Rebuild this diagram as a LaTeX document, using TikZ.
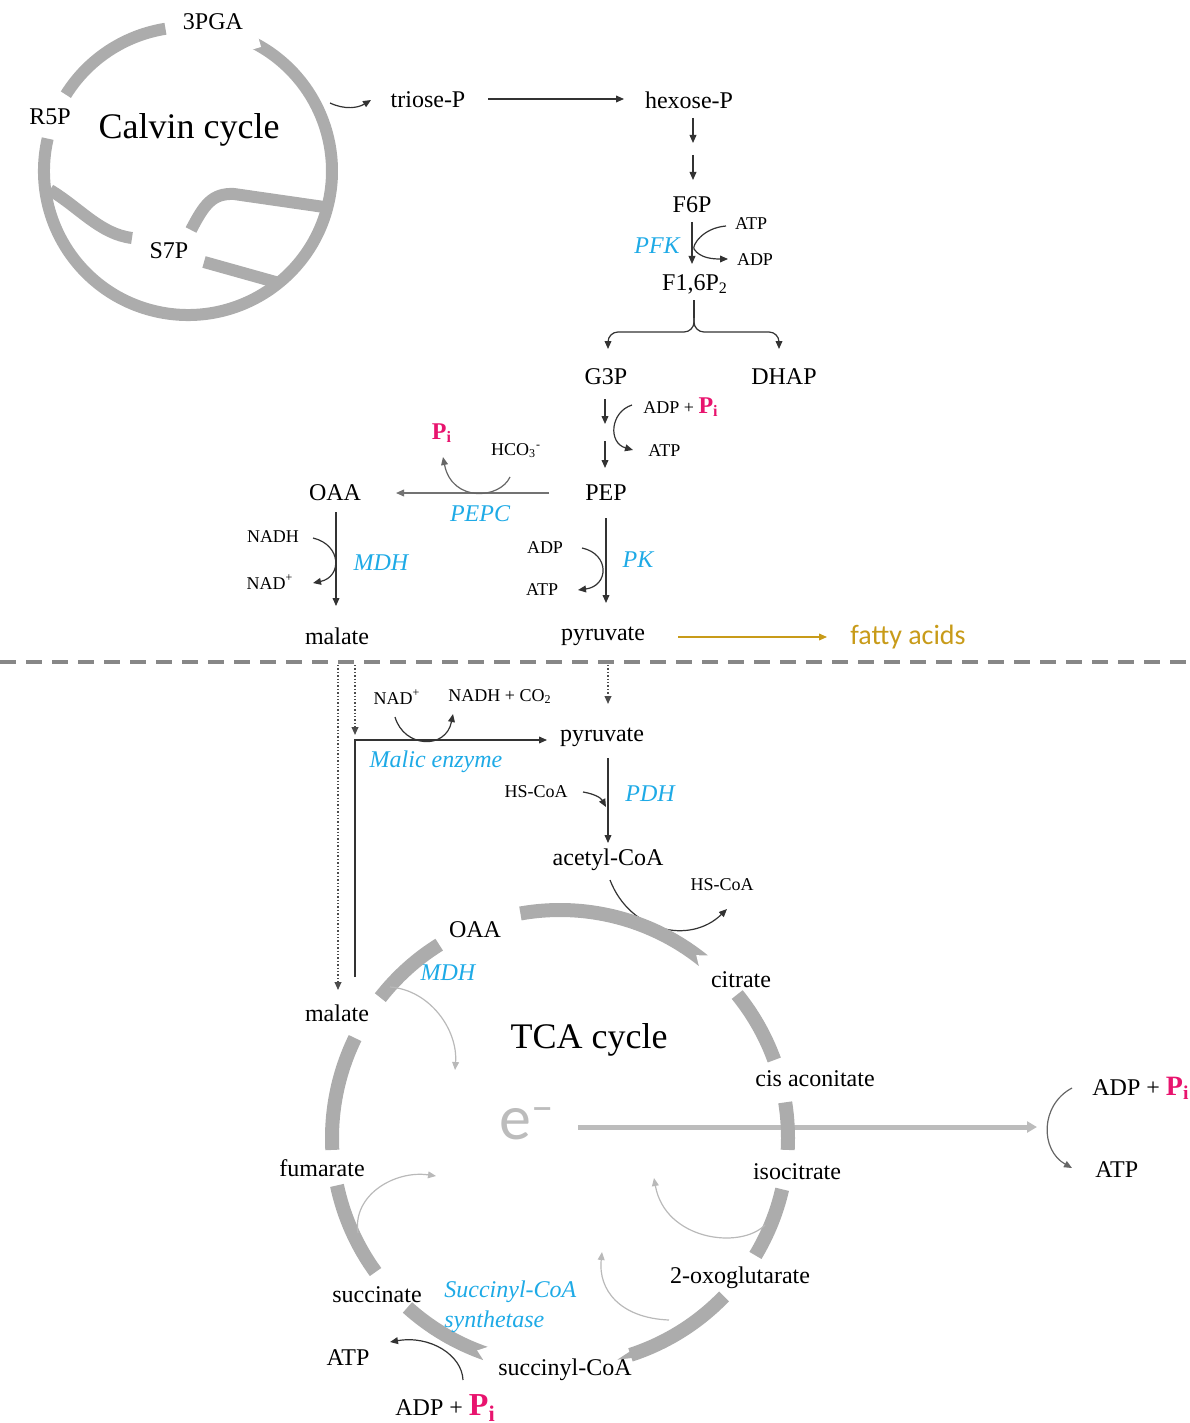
\documentclass[tikz,border=0pt]{standalone}
\usepackage{fontspec}
\setmainfont{Liberation Serif}
\newfontfamily\sansfam{Carlito}
\usetikzlibrary{arrows.meta,calc}
\definecolor{enzblue}{RGB}{30,170,230}
\definecolor{pinkc}{RGB}{232,20,110}
\definecolor{goldc}{RGB}{200,155,25}
\definecolor{ringgray}{RGB}{172,172,172}
\definecolor{lightgraytwo}{RGB}{185,185,185}
\definecolor{dashgray}{RGB}{135,135,135}
\definecolor{egray}{RGB}{188,188,188}
\newcommand{\myPi}[1]{\textcolor{pinkc}{\fontsize{#1}{#1}\selectfont\textbf{P\textsubscript{i}}}}
\begin{document}
\begin{tikzpicture}[x=0.5pt,y=-0.5pt,
  lbl/.style={inner sep=0pt, font=\fontsize{12}{14}\selectfont},
  sm/.style={inner sep=0pt, font=\fontsize{9}{11}\selectfont},
  enz/.style={inner sep=0pt, text=enzblue, font=\fontsize{12}{14}\selectfont\itshape},
  big/.style={inner sep=0pt, font=\fontsize{18}{22}\selectfont},
  ar/.style={draw=black!80, line width=0.6pt, -{Triangle[length=4pt,width=3.4pt]}},
  ln/.style={draw=black!80, line width=0.6pt},
  lar/.style={draw=lightgraytwo, line width=0.6pt, -{Triangle[length=4pt,width=3.4pt]}},
  dotar/.style={draw=black!70, line width=0.7pt, densely dotted, -{Triangle[length=4pt,width=3.4pt]}},
  cring/.style={draw=ringgray, line width=6pt},
  tring/.style={draw=ringgray, line width=7pt},
]
\useasboundingbox (0,0) rectangle (1189,1423);

% ---------------- Calvin cycle ----------------
\coordinate (cc) at (188,171);
\draw[cring] (cc) ++(-99:144) arc[start angle=-99, end angle=-148, radius=144];
\draw[cring] (cc) ++(-167:144) arc[start angle=-167, end angle=-422, radius=144];
\fill[white] ($(cc)+(-422.3:151)$) -- ($(cc)+(-419.5:144)$) -- ($(cc)+(-422.3:137)$) -- cycle;
\draw[cring] (50,190) .. controls (80,208) and (100,234) .. (132,238);
\draw[cring] (191,230) .. controls (204,205) and (212,193) .. (234,194) -- (331,208);
\draw[cring] (204,262) -- (279,283);
\node[lbl] (pga) at (213,22) {3PGA};
\node[lbl] (r5p) at (50,117) {R5P};
\node[lbl] (s7p) at (169,251) {S7P};
\node[big] (calvin) at (189,130) {Calvin cycle};

% ---------------- upper pathway ----------------
\node[lbl] (triose) at (428,100) {triose-P};
\node[lbl] (hexose) at (689,100) {hexose-P};
\coordinate (cexit) at (330,103);
\coordinate (tin) at (371,100);
\draw[ar] (cexit) .. controls (345,110) and (358,108) .. (tin);
\coordinate (th1) at (488,99); \coordinate (th2) at (624,99);
\draw[ar] (th1) -- (th2);
\coordinate (h1) at (693,118); \coordinate (h2) at (693,143);
\coordinate (h3) at (693,155); \coordinate (h4) at (693,180);
\draw[ar] (h1) -- (h2);
\draw[ar] (h3) -- (h4);

\node[lbl] (f6p) at (692,205) {F6P};
\node[lbl] (fbp) at (695,284) {F1,6P\textsubscript{2}};
\coordinate (pfk1) at (692,222); \coordinate (pfk2) at (692,264);
\draw[ar] (pfk1) -- (pfk2);
\node[sm] (atp1) at (751,224) {ATP};
\node[sm] (adp1) at (755,260) {ADP};
\node[enz] (pfk) at (657,246) {PFK};
\draw[ar] (726,226) .. controls (702,228) and (692,246) .. (694,249) .. controls (700,258) and (712,259) .. (728,259);

\coordinate (br0) at (694,300);
\coordinate (br1) at (694,332);
\draw[ln] (br0) -- (694,318);
\draw[ar, rounded corners=5pt] (694,312) -- (br1) -- (608,332) -- (608,349);
\draw[ar, rounded corners=5pt] (694,312) -- (br1) -- (779,332) -- (779,349);

\node[lbl] (g3p) at (606,377) {G3P};
\node[lbl] (dhap) at (784,377) {DHAP};
\coordinate (g1) at (605,399); \coordinate (g2) at (605,424);
\coordinate (g3) at (605,441); \coordinate (g4) at (605,468);
\draw[ar] (g1) -- (g2);
\draw[ar] (g3) -- (g4);
\draw[ar] (632,405) .. controls (610,412) and (608,443) .. (633,450);
\node[sm, anchor=west] (adppi1) at (643,407) {ADP + \myPi{12}};
\node[sm, anchor=west] (atp2) at (648,451) {ATP};

\node[lbl] (pep) at (606,493) {PEP};
\node[lbl] (oaa1) at (335,493) {OAA};
\coordinate (pc1) at (549,493); \coordinate (pc2) at (396,493);
\draw[ar, draw=black!55] (pc1) -- (pc2);
\draw[ar, draw=black!60] (510,477) .. controls (500,499) and (452,503) .. (443,457);
\node[sm] (hco3) at (516,451) {HCO\textsubscript{3}\textsuperscript{-}};
\node[inner sep=0pt] (pi1) at (442,433) {\myPi{12}};
\node[enz] (pepc) at (480,514) {PEPC};

\node[lbl] (pyr1) at (603,636) {pyruvate};
\node[lbl] (mal1) at (337,636) {malate};
\coordinate (pk1) at (606,518); \coordinate (pk2) at (606,603);
\draw[ar] (pk1) -- (pk2);
\draw[ar] (582,548) .. controls (610,554) and (609,586) .. (578,590);
\node[sm] (adp2) at (545,548) {ADP};
\node[sm] (atp3) at (542,590) {ATP};
\node[enz] (pk) at (638,560) {PK};

\coordinate (md1) at (336,512); \coordinate (md2) at (336,606);
\draw[ar] (md1) -- (md2);
\draw[ar] (313,538) .. controls (342,545) and (342,577) .. (313,583);
\node[sm] (nadh1) at (273,537) {NADH};
\node[sm] (nad1) at (270,582) {NAD\textsuperscript{+}};
\node[enz] (mdh1) at (381,563) {MDH};

\node[inner sep=0pt, text=goldc, font=\sansfam\fontsize{14}{16}\selectfont] (fa) at (908,637) {fatty acids};
\coordinate (fa1) at (678,637); \coordinate (fa2) at (827,637);
\draw[draw=goldc, line width=0.6pt, -{Triangle[length=4pt,width=3.4pt]}] (fa1) -- (fa2);

\draw[dashgray, line width=1.8pt, dash pattern=on 8pt off 5pt] (0,662) -- (1189,662);

% ---------------- mitochondrion ----------------
\node[lbl] (mal2) at (337,1013) {malate};
\node[lbl] (pyr2) at (602,737) {pyruvate};
\coordinate (d1) at (338,665);
\coordinate (d1b) at (338,990);
\coordinate (d2) at (355,665);
\coordinate (d3) at (355,735);
\coordinate (me0) at (355,977);
\coordinate (me1) at (355,740);
\coordinate (me2) at (547,740);
\draw[dotar] (d1) -- (d1b);
\draw[dotar] (d2) -- (d3);
\draw[ar] (me0) -- (me1) -- (me2);
\draw[ar] (395,717) .. controls (404,748) and (446,750) .. (453,714);
\node[sm] (nad2) at (397,697) {NAD\textsuperscript{+}};
\node[sm] (nadh2) at (500,697) {NADH + CO\textsubscript{2}};
\node[enz] (me) at (436,762) {Malic enzyme};
\coordinate (d4) at (608,665); \coordinate (d5) at (608,704);
\draw[dotar] (d4) -- (d5);

\node[lbl] (acoa) at (608,860) {acetyl-CoA};
\coordinate (pd1) at (608,758); \coordinate (pd2) at (608,843);
\draw[ar] (pd1) -- (pd2);
\draw[ar] (583,792) .. controls (595,794) and (601,798) .. (606,807);
\node[sm] (hscoa1) at (536,792) {HS-CoA};
\node[enz] (pdh) at (650,794) {PDH};
\draw[ar] (610,880) .. controls (630,932) and (690,945) .. (727,909);
\node[sm] (hscoa2) at (722,885) {HS-CoA};

% e- arrow
\node[inner sep=0pt, text=egray, font=\sansfam\fontsize{32}{32}\selectfont] (el) at (527,1124) {e\textsuperscript{\textendash}};
\coordinate (ea) at (578,1127); \coordinate (eb) at (1037,1127);
\draw[draw=egray, line width=2.5pt, -{Triangle[length=5pt,width=5.5pt]}] (ea) -- (eb);

% TCA ring
\coordinate (tc) at (560,1138);
\draw[tring] (tc) ++(-100:228) arc[start angle=-100, end angle=-51, radius=228];
\fill[white] ($(tc)+(-50.7:236)$) -- ($(tc)+(-53.3:228)$) -- ($(tc)+(-50.7:220)$) -- cycle;
\draw[tring] (tc) ++(-39:228) arc[start angle=-39, end angle=-20, radius=228];
\draw[tring] (tc) ++(-9:228) arc[start angle=-9, end angle=3, radius=228];
\draw[tring] (tc) ++(13:228) arc[start angle=13, end angle=31, radius=228];
\draw[tring] (tc) ++(44:228) arc[start angle=44, end angle=72, radius=228];
\fill[ringgray] ($(tc)+(71.8:231.5)$) -- ($(tc)+(75.5:229)$) -- ($(tc)+(71.8:224.5)$) -- cycle;
\draw[tring] (tc) ++(109:228) arc[start angle=109, end angle=132, radius=228];
\fill[white] ($(tc)+(108.7:236)$) -- ($(tc)+(111.3:228)$) -- ($(tc)+(108.7:220)$) -- cycle;
\draw[tring] (tc) ++(144:228) arc[start angle=144, end angle=168, radius=228];
\draw[tring] (tc) ++(177:228) arc[start angle=177, end angle=206, radius=228];
\draw[tring] (tc) ++(218:228) arc[start angle=218, end angle=238, radius=228];

\node[lbl] (oaa2) at (475,930) {OAA};
\node[enz] (mdh2) at (448,973) {MDH};
\node[lbl] (cit) at (741,980) {citrate};
\node[big] (tca) at (589,1040) {TCA cycle};
\node[lbl] (cis) at (815,1079) {cis aconitate};
\node[lbl] (iso) at (797,1172) {isocitrate};
\node[lbl] (og) at (740,1278) {2-oxoglutarate};
\node[lbl] (scoa) at (565,1370) {succinyl-CoA};
\node[lbl] (succ) at (377,1295) {succinate};
\node[lbl] (fum) at (322,1168) {fumarate};
\node[enz, anchor=west] (scs1) at (444,1292) {Succinyl-CoA};
\node[enz, anchor=west] (scs2) at (444,1322) {synthetase};
\node[lbl] (atp4) at (348,1358) {ATP};
\node[lbl, anchor=west] (adppi2) at (395,1408) {ADP + \myPi{16}};

\draw[lar] (390,987) .. controls (430,990) and (458,1030) .. (455,1070);
\draw[lar] (358,1233) .. controls (352,1195) and (395,1170) .. (436,1176);
\draw[lar] (669,1320) .. controls (620,1318) and (598,1290) .. (602,1252);
\draw[lar] (765,1225) .. controls (740,1250) and (665,1240) .. (654,1178);
\draw[ar] (463,1380) .. controls (462,1355) and (430,1335) .. (390,1342);

% right ATP
\node[lbl, anchor=west] (adppi3) at (1092,1088) {ADP + \myPi{14}};
\node[lbl, anchor=west] (atp5) at (1095,1170) {ATP};
\draw[ar, draw=black!60] (1072,1088) .. controls (1040,1105) and (1040,1150) .. (1072,1168);
\end{tikzpicture}
\end{document}
